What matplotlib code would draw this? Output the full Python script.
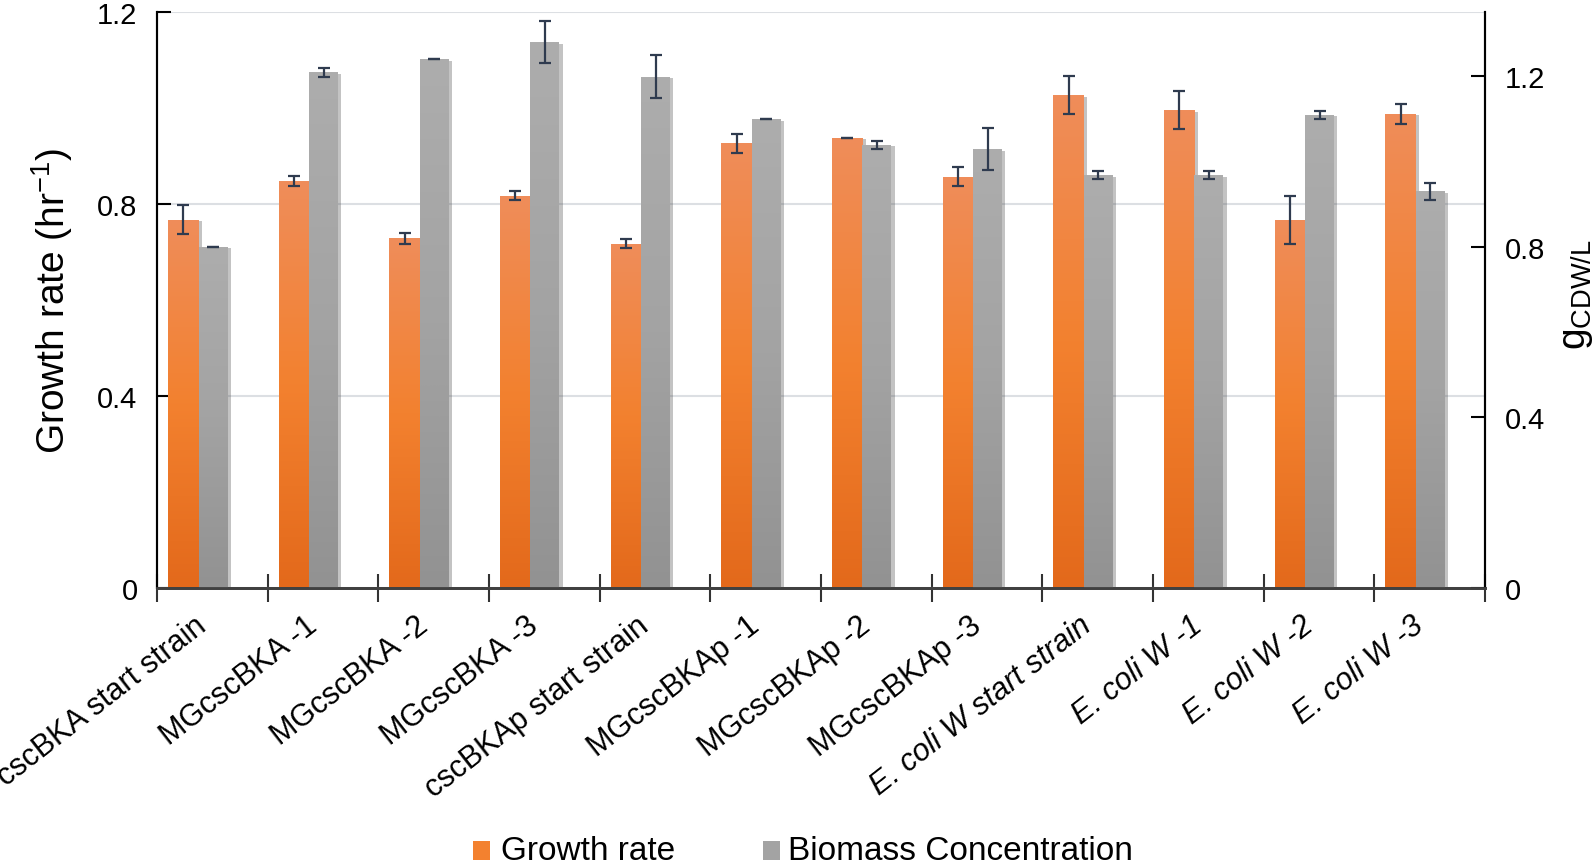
import matplotlib
matplotlib.use("Agg")
import matplotlib.pyplot as plt
import numpy as np
from matplotlib.colors import LinearSegmentedColormap
from matplotlib.patches import Rectangle
import matplotlib.patheffects as pe

plt.rcParams["font.family"] = ["Liberation Sans", "DejaVu Sans"]
plt.rcParams["mathtext.fontset"] = "custom"
plt.rcParams["mathtext.rm"] = "Liberation Sans"

# ── data ───────────────────────────────────────────────────────────────
strains = [
    "cscBKA start strain", "MGcscBKA -1", "MGcscBKA -2", "MGcscBKA -3",
    "cscBKAp start strain", "MGcscBKAp -1", "MGcscBKAp -2", "MGcscBKAp -3",
    "E. coli W start strain", "E. coli W -1", "E. coli W -2", "E. coli W -3",
]
italic = [False] * 8 + [True] * 4

growth = [0.768, 0.848, 0.729, 0.818, 0.718, 0.927,
          0.938, 0.857, 1.027, 0.996, 0.768, 0.988]
growth_err = [0.030, 0.010, 0.011, 0.010, 0.010, 0.020,
              0.0, 0.020, 0.040, 0.040, 0.050, 0.020]

biomass = [0.800, 1.209, 1.240, 1.280, 1.199, 1.099,
           1.039, 1.029, 0.968, 0.968, 1.109, 0.930]
biomass_err = [0.0, 0.010, 0.0, 0.050, 0.050, 0.0,
               0.010, 0.050, 0.010, 0.010, 0.010, 0.020]

ORANGE = ["#E3691B", "#F3812F", "#EF8D5A"]
GREY = ["#929292", "#A3A3A3", "#ADADAD"]
ERR = "#2F3B4F"


def gradient_bars(ax, bars, colors, z):
    cmap = LinearSegmentedColormap.from_list("g", colors)
    grad = np.linspace(0, 1, 256).reshape(-1, 1)
    for b in bars:
        x0, w, h = b.get_x(), b.get_width(), b.get_height()
        im = ax.imshow(grad, extent=[x0, x0 + w, 0, h], origin="lower",
                       aspect="auto", cmap=cmap, zorder=z + 0.1)
        im.set_clip_path(b)


fig = plt.figure(figsize=(15.94, 8.62), dpi=100)
ax = fig.add_axes([0.0985, 0.3167, 0.8331, 0.6679])
ax2 = ax.twinx()

x = np.arange(len(strains))
wo, wg = 0.275, 0.26
xo = x - 0.40 + wo / 2
xg = x - 0.125 + wg / 2

shadow = [pe.SimplePatchShadow(offset=(2.5, -1), shadow_rgbFace="#555555",
                               alpha=0.35), pe.Normal()]

b1 = ax.bar(xo, growth, wo, color=ORANGE[1], zorder=2, path_effects=shadow)
gradient_bars(ax, b1, ORANGE, 2)
ax.errorbar(xo, growth, yerr=growth_err, fmt="none", ecolor=ERR,
            elinewidth=1.6, capsize=4, capthick=1.6, zorder=4)

b2 = ax2.bar(xg, biomass, wg, color=GREY[1], zorder=2, path_effects=shadow)
gradient_bars(ax2, b2, GREY, 2)
ax2.errorbar(xg, biomass, yerr=biomass_err, fmt="none", ecolor=ERR,
             elinewidth=1.6, capsize=4, capthick=1.6, zorder=4)

for a in (ax, ax2):
    a.set_xlim(-0.5, len(strains) - 0.5)
ax.set_ylim(0, 1.2)
ax2.set_ylim(0, 1.35)

# gridlines
ax.set_axisbelow(True)
ax.set_yticks([0, 0.4, 0.8, 1.2])
ax.set_yticklabels(["0", "0.4", "0.8", "1.2"])
ax.yaxis.grid(True, color="#DCDFE3", linewidth=1.5)
ax2.set_yticks([0, 0.4, 0.8, 1.2])
ax2.set_yticklabels(["0", "0.4", "0.8", "1.2"])

ax.tick_params(axis="y", direction="in", length=10, width=1.5,
               labelsize=21, pad=14)
ax2.tick_params(axis="y", direction="in", length=10, width=1.5,
                labelsize=21, pad=14)

# category ticks at boundaries, labels at centres
ax.set_xticks(np.arange(len(strains) + 1) - 0.5, minor=True)
ax.set_xticks(x)
ax.set_xticklabels(strains, rotation=38, ha="right", va="top", fontsize=22)
for lbl, it in zip(ax.get_xticklabels(), italic):
    if it:
        lbl.set_style("italic")
ax.tick_params(axis="x", which="major", length=0, pad=16)
ax.tick_params(axis="x", which="minor", direction="inout", length=20,
               width=1.5, color="#333333")
ax2.tick_params(axis="x", which="both", length=0)

for a in (ax, ax2):
    a.spines["top"].set_visible(False)
    a.spines["left"].set_linewidth(1.5)
    a.spines["right"].set_linewidth(1.5)
    a.spines["bottom"].set_linewidth(2)
    a.spines["bottom"].set_color("#404040")

ax.set_ylabel("Growth rate (hr$^{-1}$)", fontsize=28)
ax.yaxis.set_label_coords(-0.062, 0.5)

H, W = 862, 1594
fig.text(1577 / W, 1 - 295 / H, "g$_{\\mathrm{CDW/L}}$", fontsize=28,
         rotation=90, ha="center", va="center")

# legend along the bottom edge
fig.add_artist(Rectangle((473 / W, 1 / H), 17 / W, 19 / H,
                         facecolor=ORANGE[1], edgecolor="none",
                         transform=fig.transFigure))
fig.text(501 / W, 2 / H, "Growth rate", fontsize=24, va="baseline")
fig.add_artist(Rectangle((763 / W, 1 / H), 17 / W, 19 / H,
                         facecolor=GREY[1], edgecolor="none",
                         transform=fig.transFigure))
fig.text(788 / W, 2 / H, "Biomass Concentration", fontsize=24,
         va="baseline")

fig.savefig("out.png", dpi=100)
